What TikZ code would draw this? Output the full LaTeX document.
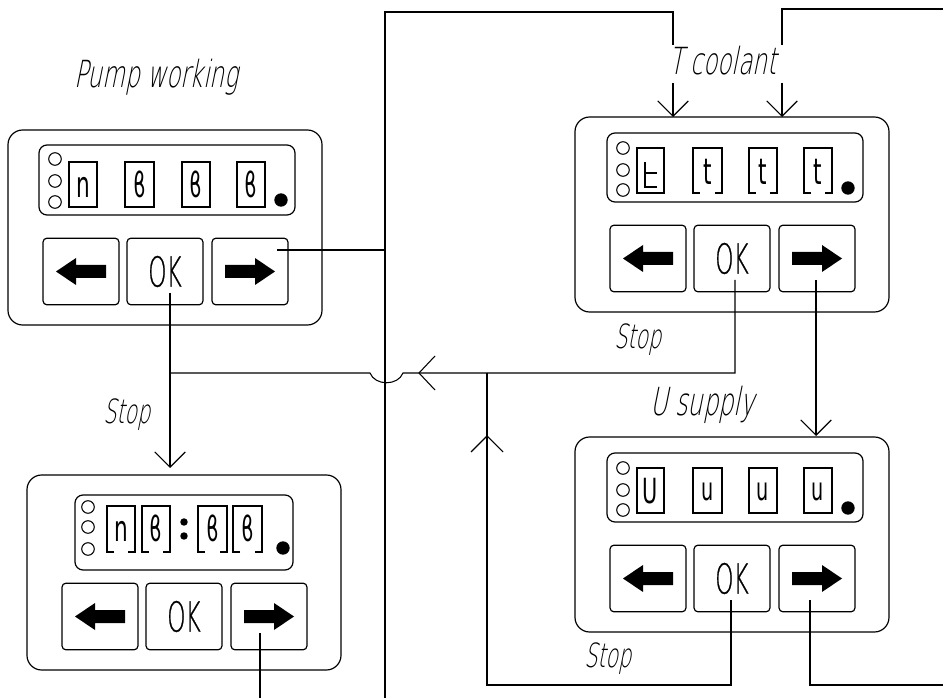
\documentclass[tikz,border=0pt]{standalone}
\usepackage{fontspec}
\usepackage{graphicx}
\usetikzlibrary{arrows.meta}
\newfontfamily\lblfont{DejaVu Sans ExtraLight}[FakeSlant=0.2,FakeStretch=0.62]
\newfontfamily\okfont{DejaVu Sans ExtraLight}[FakeStretch=0.56,FakeBold=0.6]
\newfontfamily\dgfont{DejaVu Sans}[FakeStretch=0.6]
\tikzset{
 wire/.style={line width=0.8pt},
 barb/.style={-{Straight Barb[length=11.5pt,width=23pt]}},
 outerbox/.style={draw,line width=0.9pt,rounded corners=11pt},
 dispbox/.style={draw,line width=0.9pt,rounded corners=6pt},
 btn/.style={draw,line width=0.9pt,rounded corners=3pt,minimum width=57pt,minimum height=50pt,inner sep=0pt,font=\okfont\fontsize{31}{31}\selectfont},
 dbox/.style={draw,line width=0.8pt},
 led/.style={draw,line width=0.8pt},
 lbl/.style={inner sep=0pt,anchor=base west},
 dg/.style={inner sep=0pt},
}
\newcommand\panelbox[3]{%
 \begin{scope}[shift={(#2,#3)}]
  \draw[outerbox] (0,0) rectangle (314,195);
  \node[btn] (#1L) at (73,141.5) {};
  \node[btn] (#1OK) at (157,141.5) {OK};
  \node[btn] (#1R) at (242,141.5) {};
  \fill (48,141.5) -- ++(20,-13.5) -- ++(0,7) -- ++(30,0) -- ++(0,13) -- ++(-30,0) -- ++(0,7) -- cycle;
  \fill (267,141.5) -- ++(-20,-13.5) -- ++(0,7) -- ++(-30,0) -- ++(0,13) -- ++(30,0) -- ++(0,7) -- cycle;
 \end{scope}}
\newcommand\brk[4]{\draw[dbox] (#1+7,#4) -- (#1,#4) -- (#1,#2) -- (#3,#2) -- (#3,#4) -- (#3-7,#4);}
\newcommand\leds[4]{%
 \draw[led] (#1,#2) circle[radius=4.7pt];
 \draw[led] (#1,#3) circle[radius=4.7pt];
 \draw[led] (#1,#4) circle[radius=4.7pt];}
\begin{document}
\begin{tikzpicture}[x=0.75pt,y=-0.75pt]
\useasboundingbox (0,0) rectangle (943,698);

% panels
\panelbox{tl}{8}{130}
\panelbox{tr}{575}{117}
\panelbox{br}{575}{437}
\panelbox{bl}{27}{475}

% top-left display
\draw[dispbox] (39,145) rectangle (295,215);
\leds{55}{159}{181}{202}
\draw[dbox] (69,162) rectangle (97,207);
\draw[dbox] (125,162) rectangle (154,207);
\draw[dbox] (182,162) rectangle (210,207);
\draw[dbox] (237,162) rectangle (265,207);
\node[dg,font=\dgfont\fontsize{27}{27}\selectfont] (tld1) at (83,187) {n};
\node[dg,font=\dgfont\fontsize{26}{26}\selectfont] (tld2) at (139.5,184) {ϐ};
\node[dg,font=\dgfont\fontsize{26}{26}\selectfont] (tld3) at (196,184) {ϐ};
\node[dg,font=\dgfont\fontsize{26}{26}\selectfont] (tld4) at (251,184) {ϐ};
\fill (281,200) circle[radius=5pt];

% top-right display
\draw[dispbox] (607,133) rectangle (863,202);
\leds{623}{148}{170}{190}
\draw[dbox] (637,148) rectangle (664,193);
\draw[line width=1.5pt] (645,162) -- (645,187) -- (657,187);
\draw[line width=1.5pt] (645,173) -- (657,173);
\brk{693}{148}{722}{193}
\brk{749}{148}{777}{193}
\brk{804}{148}{832}{193}
\node[dg,font=\dgfont\fontsize{27}{27}\selectfont] (trd2) at (707.5,172) {t};
\node[dg,font=\dgfont\fontsize{27}{27}\selectfont] (trd3) at (763,172) {t};
\node[dg,font=\dgfont\fontsize{27}{27}\selectfont] (trd4) at (818,172) {t};
\fill (848,188) circle[radius=5pt];

% bottom-right display
\draw[dispbox] (607,453) rectangle (863,522);
\leds{623}{468}{490}{510}
\draw[dbox] (637,468) rectangle (664,513);
\draw[dbox] (693,468) rectangle (722,513);
\draw[dbox] (749,468) rectangle (777,513);
\draw[dbox] (804,468) rectangle (832,513);
\node[dg,font=\dgfont\fontsize{26}{26}\selectfont] (brd1) at (650.5,491) {U};
\node[dg,font=\dgfont\fontsize{24}{24}\selectfont] (brd2) at (707.5,492) {u};
\node[dg,font=\dgfont\fontsize{24}{24}\selectfont] (brd3) at (763,492) {u};
\node[dg,font=\dgfont\fontsize{24}{24}\selectfont] (brd4) at (818,492) {u};
\fill (848,508) circle[radius=5pt];

% bottom-left display
\draw[dispbox] (75,495) rectangle (293,570);
\leds{88}{507}{527}{549}
\brk{107}{506}{135}{552}
\brk{142}{506}{170}{552}
\brk{198}{506}{227}{552}
\brk{233}{506}{262}{552}
\node[dg,font=\dgfont\fontsize{27}{27}\selectfont] (bld1) at (121,531) {n};
\node[dg,font=\dgfont\fontsize{26}{26}\selectfont] (bld2) at (156,528) {ϐ};
\node[dg,font=\dgfont\fontsize{26}{26}\selectfont] (bld3) at (212.5,528) {ϐ};
\node[dg,font=\dgfont\fontsize{26}{26}\selectfont] (bld4) at (247.5,528) {ϐ};
\fill (184,522) circle[radius=2.8pt];
\fill (184,536) circle[radius=2.8pt];
\fill (283,548) circle[radius=5pt];

% labels
\node[lbl,font=\lblfont\fontsize{28}{28}\selectfont] (lPump) at (74,88) {Pump working};
\node[lbl,font=\lblfont\fontsize{28}{28}\selectfont] (lTc) at (669,75) {T coolant};
\node[lbl,font=\lblfont\fontsize{25}{25}\selectfont] (lStopA) at (103,424) {Stop};
\node[lbl,font=\lblfont\fontsize{25}{25}\selectfont] (lStopB) at (614,349) {Stop};
\node[lbl,font=\lblfont\fontsize{29}{29}\selectfont] (lU) at (650,416) {U supply};
\node[lbl,font=\lblfont\fontsize{25}{25}\selectfont] (lStopC) at (584,667) {Stop};

% connector points
\coordinate (tlRp) at (277,250);
\coordinate (tlOKp) at (170,293);
\coordinate (trOKp) at (735,280);
\coordinate (trRp) at (816,280);
\coordinate (brOKp) at (731,600);
\coordinate (brRp) at (810,600);
\coordinate (blRp) at (260,633);
\coordinate (vTop) at (385,12);
\coordinate (vBot) at (385,698);
\coordinate (tcA) at (673,117);
\coordinate (tcB) at (782,117);
\coordinate (blIn) at (170,468);
\coordinate (brIn) at (816,436);

% connectors
\draw[wire] (tlRp) -- (385,250);
\draw[wire] (vBot) -- (vTop) -- (673,12) -- (673,45);
\draw[wire,barb] (673,83) -- (tcA);
\draw[wire] (943,9) -- (782,9) -- (782,45);
\draw[wire,barb] (782,83) -- (tcB);
\draw[wire,barb] (tlOKp) -- (blIn);
\draw[wire] (170,373) -- (370,373) .. controls (375,386) and (398,386) .. (403,373) -- (735,373) -- (trOKp);
\draw[wire] (435,356) -- (419,373) -- (435,390);
\draw[wire] (487,373) -- (487,685) -- (731,685) -- (brOKp);
\draw[wire] (471,452) -- (487,436) -- (503,452);
\draw[wire,barb] (trRp) -- (brIn);
\draw[wire] (brRp) -- (810,685) -- (943,685);
\draw[wire] (blRp) -- (260,698);
\end{tikzpicture}
\end{document}
